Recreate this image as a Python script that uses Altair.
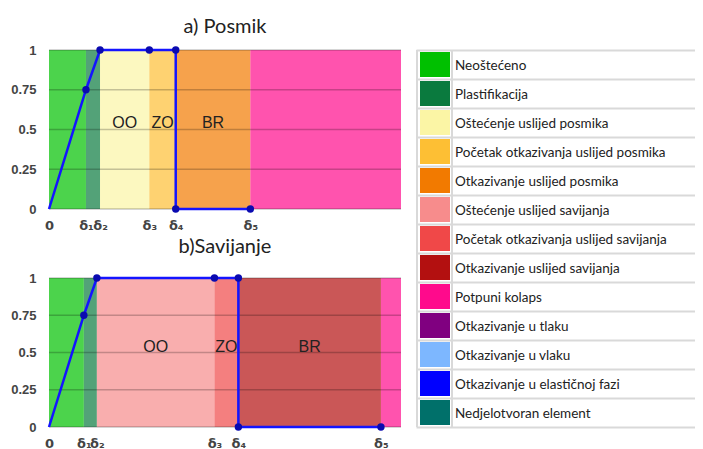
import altair as alt
import pandas as pd

# ---------------- data ----------------
legend_labels = [
    "Neoštećeno", "Plastifikacija", "Oštećenje uslijed posmika",
    "Početak otkazivanja uslijed posmika", "Otkazivanje uslijed posmika",
    "Oštećenje uslijed savijanja", "Početak otkazivanja uslijed savijanja",
    "Otkazivanje uslijed savijanja", "Potpuni kolaps", "Otkazivanje u tlaku",
    "Otkazivanje u vlaku", "Otkazivanje u elastičnoj fazi", "Nedjelotvoran element",
]
legend_colors = [
    "#00c000", "#0a7a3e", "#fbf5a5", "#fdbf34", "#f27a00", "#f78c8c",
    "#f04848", "#b31010", "#ff0a8c", "#800080", "#7db7ff", "#0000ff", "#00706a",
]

x_tick_labels = ["0", "δ₁", "δ₂", "δ₃", "δ₄", "δ₅"]
x_max = 10
y_ticks = [0, 0.25, 0.5, 0.75, 1]

posmik_deltas = [0, 1.05, 1.45, 2.85, 3.6, 5.72]
posmik_states = ["Neoštećeno", "Plastifikacija", "Oštećenje uslijed posmika",
                 "Početak otkazivanja uslijed posmika", "Otkazivanje uslijed posmika",
                 "Potpuni kolaps"]
savijanje_deltas = [0, 0.99, 1.36, 4.7, 5.38, 9.43]
savijanje_states = ["Neoštećeno", "Plastifikacija", "Oštećenje uslijed savijanja",
                    "Početak otkazivanja uslijed savijanja", "Otkazivanje uslijed savijanja",
                    "Potpuni kolaps"]
zone_labels = ["", "", "OO", "ZO", "BR", ""]

curve_idx = [0, 1, 2, 3, 4, 4, 5]
curve_y = [0, 0.75, 1, 1, 1, 0, 0]

color_scale = alt.Scale(domain=legend_labels, range=legend_colors)
AXIS_FONT = "Liberation Sans"


def panel(title, deltas, states, width, height, title_offset):
    regions = pd.DataFrame({
        "start": deltas,
        "end": deltas[1:] + [x_max],
        "state": states,
        "zone": zone_labels,
    })
    curve = pd.DataFrame({
        "x": [deltas[i] for i in curve_idx],
        "y": curve_y,
        "order": list(range(len(curve_y))),
    })
    grid = pd.DataFrame({"v": y_ticks})

    label_expr = "[{}][indexof([{}], datum.value)]".format(
        ",".join("'" + l + "'" for l in x_tick_labels),
        ",".join(str(d) for d in deltas),
    )
    xscale = alt.Scale(domain=[0, x_max], nice=False, zero=False)
    yscale = alt.Scale(domain=[0, 1], nice=False)
    xaxis = alt.Axis(values=deltas, labelExpr=label_expr, title=None, grid=False,
                     ticks=False, tickSize=0, domain=False, labelPadding=10,
                     labelFlush=False, labelOverlap=False, labelFont="DejaVu Sans",
                     labelFontSize=13, labelFontWeight="bold", labelColor="#444")
    yaxis = alt.Axis(values=y_ticks, format=".2~f", title=None, grid=False,
                     ticks=False, tickSize=0, domain=False, labelPadding=13,
                     labelOverlap=False, labelFlush=False,
                     labelFont=AXIS_FONT, labelFontSize=13, labelFontWeight="bold",
                     labelColor="#444")

    rects = alt.Chart(regions).transform_calculate(
        lo="0", hi="1"
    ).mark_rect(opacity=0.7).encode(
        x=alt.X("start:Q", scale=xscale, axis=xaxis),
        x2="end:Q",
        y=alt.Y("lo:Q", scale=yscale, axis=yaxis),
        y2="hi:Q",
        color=alt.Color("state:N", scale=color_scale, legend=None),
    )
    rules = alt.Chart(grid).mark_rule(color="#000000", opacity=0.22, strokeWidth=1.5).encode(
        y=alt.Y("v:Q", scale=yscale, axis=yaxis)
    )
    zones = alt.Chart(regions).transform_filter(
        "datum.zone != ''"
    ).transform_calculate(
        mid="(datum.start + datum.end) / 2", ty="0.54"
    ).mark_text(
        font=AXIS_FONT, fontSize=16, color="#222", baseline="middle"
    ).encode(
        x=alt.X("mid:Q", scale=xscale, axis=xaxis),
        y=alt.Y("ty:Q", scale=yscale, axis=yaxis),
        text="zone:N",
    )
    line = alt.Chart(curve).mark_line(color="#1414ff", strokeWidth=2.5).encode(
        x=alt.X("x:Q", scale=xscale, axis=xaxis),
        y=alt.Y("y:Q", scale=yscale, axis=yaxis),
        order="order:Q",
    )
    dots = alt.Chart(curve).transform_filter("datum.order > 0").mark_circle(
        color="#0a0ab0", size=55, opacity=1
    ).encode(
        x=alt.X("x:Q", scale=xscale, axis=xaxis),
        y=alt.Y("y:Q", scale=yscale, axis=yaxis),
    )
    return alt.layer(rects, rules, zones, line, dots).properties(
        width=width, height=height,
        title=alt.TitleParams(title, font="Lato", fontSize=20, fontWeight="normal",
                              color="#222", offset=title_offset, anchor="middle"),
    )


top = panel("a) Posmik", posmik_deltas, posmik_states, 352, 159, 7)
bottom = panel("b)Savijanje", savijanje_deltas, savijanje_states, 352, 149, 15)

# ---------------- legend table ----------------
leg_df = pd.DataFrame({"label": legend_labels})
yband = alt.Scale(domain=legend_labels, paddingInner=0, paddingOuter=0)
leg_axis = alt.Axis(grid=True, tickBand="extent", labels=False, ticks=False,
                    domain=False, title=None, gridColor="#d9d9d9", gridWidth=2,
                    zindex=1)

swatches = alt.Chart(leg_df).mark_rect(stroke="white", strokeWidth=4).encode(
    x=alt.value(2), x2=alt.value(36),
    y=alt.Y("label:N", sort=legend_labels, scale=yband, axis=leg_axis),
    color=alt.Color("label:N", scale=color_scale, legend=None),
)
texts = alt.Chart(leg_df).mark_text(
    align="left", baseline="middle", font="Lato", fontSize=13.5, color="#222", dy=1
).encode(
    x=alt.value(39),
    y=alt.Y("label:N", sort=legend_labels, scale=yband, axis=leg_axis),
    text="label:N",
)
vlines = alt.Chart(pd.DataFrame({"xv": [1, 36]})).mark_rule(
    color="#d9d9d9", strokeWidth=2
).encode(x=alt.X("xv:Q", scale=alt.Scale(domain=[0, 279], nice=False), axis=None))
spacer = alt.Chart(pd.DataFrame({"s": [0]})).mark_rule(color="white", strokeWidth=1).encode(
    x=alt.value(1), y=alt.value(-31), y2=alt.value(0)
)
legend = alt.layer(swatches, vlines, texts, spacer).properties(width=279, height=377)

left = alt.vconcat(top, bottom, spacing=5)
chart = alt.hconcat(left, legend, spacing=14).properties(
    padding={"left": 2, "top": 9, "right": 0, "bottom": 0}
).configure_view(stroke=None).configure_axisY(labelOverlap=False)

chart.save("out.html", embed_options={"renderer": "svg", "actions": False})
